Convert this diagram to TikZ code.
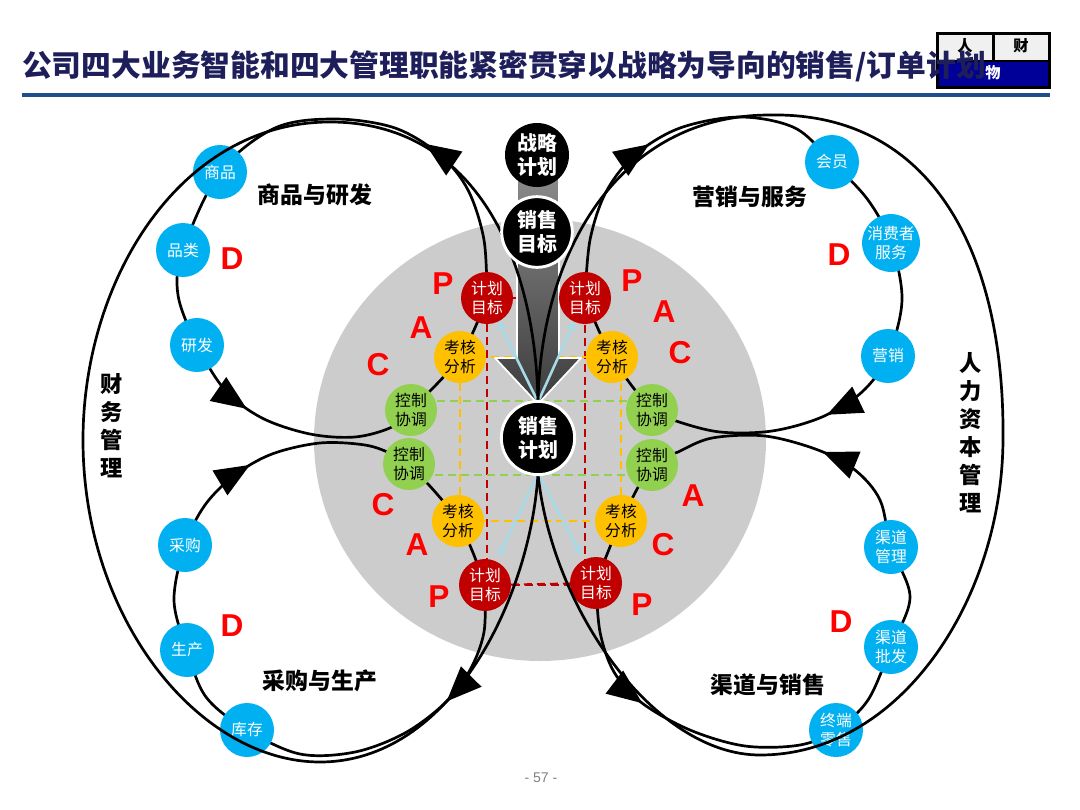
\documentclass[tikz,border=0pt]{standalone}
\usepackage{fontspec}
\setmainfont{Liberation Sans}
\newfontfamily\cjk{Noto Sans CJK SC}
\usetikzlibrary{arrows.meta,decorations.markings,calc}
\definecolor{titlec}{RGB}{30,30,90}
\definecolor{lineblue}{RGB}{31,78,140}
\definecolor{boxblue}{RGB}{0,0,153}
\definecolor{cellgray}{RGB}{240,240,240}
\definecolor{bgray}{RGB}{204,204,204}
\definecolor{dred}{RGB}{192,0,0}
\definecolor{pyel}{RGB}{255,192,0}
\definecolor{pgreen}{RGB}{146,208,80}
\definecolor{sky}{RGB}{0,176,240}
\definecolor{lblue}{RGB}{165,218,230}
\definecolor{pacred}{RGB}{255,0,0}
\definecolor{arrtop}{RGB}{140,140,140}
\definecolor{arrbot}{RGB}{60,60,60}
\begin{document}
\begin{tikzpicture}[x=0.03cm,y=-0.03cm,line join=round,
  loopl/.style={line width=2.3pt,black},
  arrs/.style 2 args={postaction={decorate,decoration={markings,
      mark=at position #1 with {\arrow{Triangle[length=1.05cm,width=0.85cm]}},
      mark=at position #2 with {\arrow{Triangle[length=1.05cm,width=0.85cm]}}}}},
  pdc/.style={circle,minimum size=1.56cm,inner sep=0pt,align=center,font=\cjk\fontsize{13.5}{17}\selectfont},
  redc/.style={pdc,fill=dred,text=white},
  yelc/.style={pdc,fill=pyel,text=black},
  grnc/.style={pdc,fill=pgreen,text=black},
  bluec/.style={circle,minimum size=1.62cm,inner sep=0pt,align=center,fill=sky,text=white,font=\cjk\fontsize{13.5}{16}\selectfont},
  blkc/.style={circle,fill=black,text=white,inner sep=0pt,align=center,font=\cjk\bfseries\fontsize{17}{20.5}\selectfont},
  sect/.style={font=\cjk\bfseries\fontsize{19.5}{22}\selectfont,inner sep=0pt},
  vert/.style={align=center,inner sep=0pt,font=\cjk\bfseries\fontsize{19}{23.9}\selectfont},
  letter/.style={text=pacred,inner sep=0pt,font=\bfseries\fontsize{27}{30}\selectfont},
  rdash/.style={dred,line width=1.7pt,dash pattern=on 0.24cm off 0.15cm},
  ydash/.style={pyel,line width=1.7pt,dash pattern=on 0.24cm off 0.15cm},
  gdash/.style={pgreen,line width=1.7pt,dash pattern=on 0.24cm off 0.15cm},
  lbl/.style={lblue,line width=2.2pt,-{Stealth[length=0.3cm,width=0.28cm]}},
  cellt/.style={inner sep=0pt,font=\cjk\bfseries\fontsize{13}{15}\selectfont}
]
\useasboundingbox (0,0) rectangle (1080,810);

% ---------- coordinates ----------
\coordinate (p1) at (487,298);
\coordinate (p2) at (585,298);
\coordinate (p3) at (485,585);
\coordinate (p4) at (596,583);
\coordinate (a1) at (460,357);
\coordinate (a2) at (612,357);
\coordinate (a3) at (458,521);
\coordinate (a4) at (621,521);
\coordinate (c1) at (411,410);
\coordinate (c2) at (652,410);
\coordinate (c3) at (409,464);
\coordinate (c4) at (652,465);
\coordinate (s1) at (220,172);
\coordinate (s2) at (183,250);
\coordinate (s3) at (197,345);
\coordinate (s4) at (832,162);
\coordinate (s5) at (891,243);
\coordinate (s6) at (888,356);
\coordinate (s7) at (185,545);
\coordinate (s8) at (187,650);
\coordinate (s9) at (247,730);
\coordinate (s10) at (891,547);
\coordinate (s11) at (891,647);
\coordinate (s12) at (836,730);
\coordinate (sp) at (538,438);
\coordinate (spt) at (538,402);
\coordinate (spb) at (538,474);

% ---------- header ----------
\path[fill=black] (936,32) rectangle (1051,89);
\path[fill=cellgray] (939,35) rectangle (992,60);
\path[fill=cellgray] (995,35) rectangle (1048,60);
\path[fill=boxblue] (939,62) rectangle (1048,86);
\node[cellt] (hren) at (965,46) {人};
\node[cellt] (hcai) at (1021,46) {财};
\node[cellt,text=white] (hwu) at (993,73) {物};
\node[anchor=west,inner sep=0pt,text=titlec,font=\cjk\bfseries\fontsize{25.4}{28}\selectfont] (title) at (22,66)
  {公司四大业务智能和四大管理职能紧密贯穿以战略为导向的销售/订单计划};
\draw[lineblue,line width=0.11cm] (22,95) -- (1050,95);

% ---------- gray disc ----------
\fill[bgray] (540,440) ellipse [x radius=6.78cm, y radius=6.63cm];

% ---------- dashed frames ----------
\draw[rdash] (p1) rectangle (p2 |- p3);
\draw[rdash] (p3) -- (p4);
\draw[ydash] (a1) rectangle (a4);
\draw[gdash] ($(c1)+(0,-9)$) -- ($(c2)+(0,-9)$);
\draw[gdash] ($(c3)+(0,11)$) -- ($(c4)+(0,10)$);

% ---------- central gray arrow ----------
\path[draw=white,line width=1.5pt,top color=arrtop,bottom color=arrbot]
  (517,170) -- (559,170) -- (559,358) -- (581,358) -- (538,404) -- (495,358) -- (517,358) -- cycle;

% ---------- light blue arrows ----------
\draw[lbl,shorten >=0.75cm] (spt) -- (p1);
\draw[lbl,shorten >=0.75cm] (spt) -- (p2);
\draw[lbl,shorten >=0.95cm] (spb) -- (p3);
\draw[lbl,shorten >=0.95cm] (spb) -- (p4);

% ---------- inner loops ----------
\draw[loopl,arrs={0.177}{0.68}] plot[smooth,tension=0.55] coordinates
  {(p1) (484,240) (468,190) (440,155) (395,128) (335,119) (275,128) (s1) (s2) (178,295) (s3)
   (225,390) (262,418) (310,434) (355,437) (392,427) (c1) (a1) (p1)};
\draw[loopl,arrs={0.175}{0.685}] plot[smooth,tension=0.55] coordinates
  {(p2) (590,240) (606,192) (635,155) (680,128) (740,117) (795,128) (s4) (868,200) (s5) (902,300) (s6)
   (862,392) (822,417) (772,431) (720,432) (676,421) (c2) (a2) (p2)};
\draw[loopl,arrs={0.13}{0.68}] plot[smooth,tension=0.55] coordinates
  {(p3) (484,632) (470,670) (445,703) (405,733) (355,752) (300,754) (s9) (206,697) (s8) (174,600) (s7)
   (205,505) (235,475) (272,454) (320,443) (365,445) (392,454) (c3) (a3) (p3)};
\draw[loopl,arrs={0.136}{0.685}] plot[smooth,tension=0.55] coordinates
  {(p4) (600,632) (614,672) (642,703) (690,730) (745,746) (800,745) (s12) (868,700) (s11) (910,597) (s10)
   (880,500) (855,470) (818,450) (765,436) (712,438) (678,452) (c4) (a4) (p4)};

% ---------- PDCA circles ----------
\node[redc] (P1) at (p1) {计划\\目标};
\node[redc] (P2) at (p2) {计划\\目标};
\node[redc] (P3) at (p3) {计划\\目标};
\node[redc] (P4) at (p4) {计划\\目标};
\node[yelc] (A1) at (a1) {考核\\分析};
\node[yelc] (A2) at (a2) {考核\\分析};
\node[yelc] (A3) at (a3) {考核\\分析};
\node[yelc] (A4) at (a4) {考核\\分析};
\node[grnc] (C1) at (c1) {控制\\协调};
\node[grnc] (C2) at (c2) {控制\\协调};
\node[grnc] (C3) at (c3) {控制\\协调};
\node[grnc] (C4) at (c4) {控制\\协调};

% ---------- blue circles ----------
\node[bluec] (S1) at (s1) {商品};
\node[bluec] (S2) at (s2) {品类};
\node[bluec] (S3) at (s3) {研发};
\node[bluec] (S4) at (s4) {会员};
\node[bluec] (S5) at (s5) {消费者\\服务};
\node[bluec] (S6) at (s6) {营销};
\node[bluec] (S7) at (s7) {采购};
\node[bluec] (S8) at (s8) {生产};
\node[bluec] (S9) at (s9) {库存};
\node[bluec] (S10) at (s10) {渠道\\管理};
\node[bluec] (S11) at (s11) {渠道\\批发};
\node[bluec] (S12) at (s12) {终端\\零售};

% ---------- outer loops ----------
\draw[loopl] (spt) .. controls (535,250) and (470,122) .. (330,122)
  .. controls (180,122) and (83,280) .. (83,440)
  .. controls (83,620) and (200,762) .. (320,762)
  .. controls (450,762) and (530,600) .. (spb);
\draw[loopl] (spt) .. controls (541,250) and (620,115) .. (770,115)
  .. controls (930,112) and (1005,250) .. (1003,440)
  .. controls (1002,600) and (900,755) .. (760,755)
  .. controls (655,755) and (552,610) .. (spb);

% ---------- black circles ----------
\node[blkc,minimum size=1.92cm] (zl) at (537,155) {战略\\计划};
\node[blkc,draw=white,line width=2.5pt,minimum size=2.12cm] (xm) at (537,232) {销售\\目标};
\node[blkc,draw=white,line width=2.5pt,minimum size=2.2cm] (xj) at (sp) {销售\\计划};

% ---------- labels ----------
\node[sect] (l1) at (315,195) {商品与研发};
\node[sect] (l2) at (750,197) {营销与服务};
\node[sect] (l3) at (320,681) {采购与生产};
\node[sect] (l4) at (768,685) {渠道与销售};
\node[vert] (v1) at (112,426) {财\\务\\管\\理};
\node[vert] (v2) at (971,433) {人\\力\\资\\本\\管\\理};

\node[letter] (d1) at (232,259) {D};
\node[letter] (d2) at (839,255) {D};
\node[letter] (d3) at (232,626) {D};
\node[letter] (d4) at (841,622) {D};

\node[letter] (tlp) at (443,284) {P};
\node[letter] (tla) at (421,328) {A};
\node[letter] (tlc) at (378,365) {C};
\node[letter] (trp) at (632,281) {P};
\node[letter] (tra) at (664,312) {A};
\node[letter] (trc) at (680,353) {C};
\node[letter] (blc) at (383,505) {C};
\node[letter] (bla) at (417,545) {A};
\node[letter] (blp) at (439,597) {P};
\node[letter] (bra) at (693,496) {A};
\node[letter] (brc) at (663,545) {C};
\node[letter] (brp) at (642,605) {P};

\node[text=gray,inner sep=0pt,font=\fontsize{12}{14}\selectfont] (pg) at (541,778) {- 57 -};
\end{tikzpicture}
\end{document}
